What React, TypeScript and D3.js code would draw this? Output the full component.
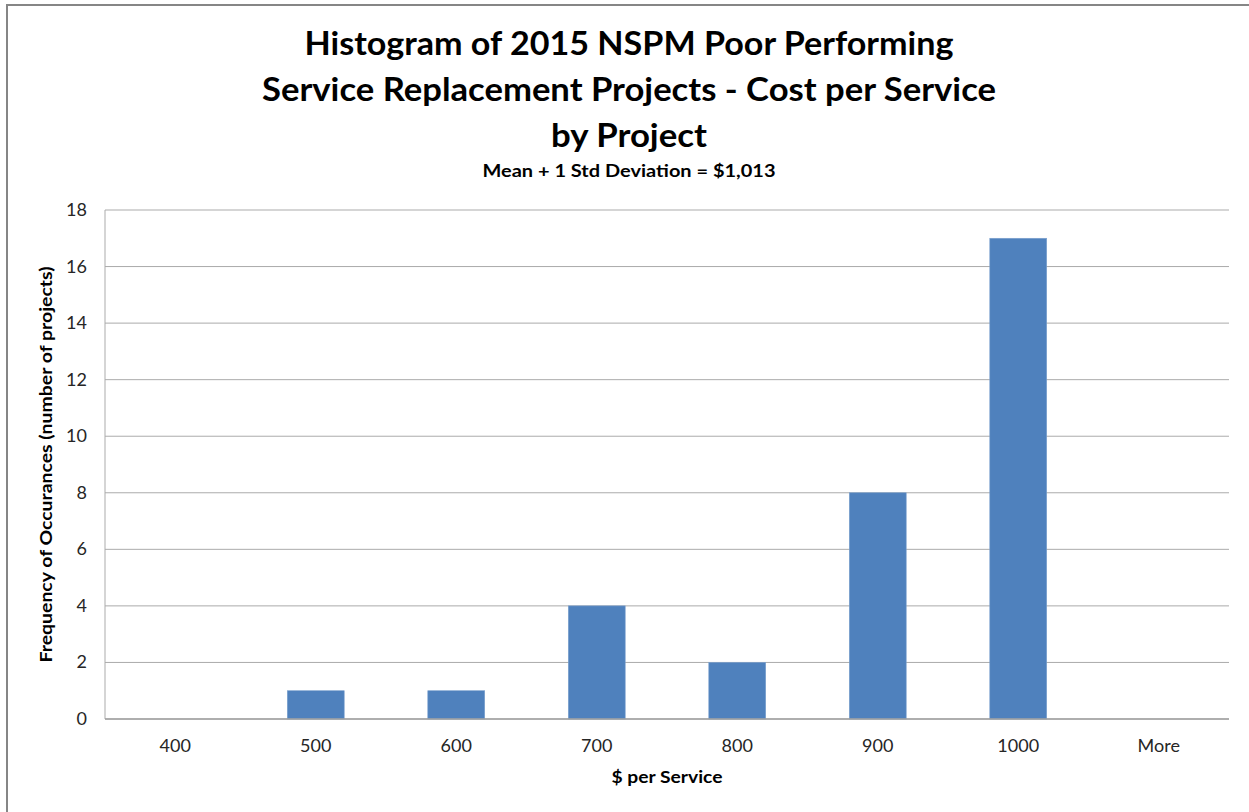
import React from "react";
import * as d3 from "d3";

const categories = ["400", "500", "600", "700", "800", "900", "1000", "More"];
const frequencies = [0, 1, 1, 4, 2, 8, 17, 0];
const yTicks = [0, 2, 4, 6, 8, 10, 12, 14, 16, 18];
const titleLines = [
  "Histogram of 2015 NSPM Poor Performing",
  "Service Replacement Projects - Cost per Service",
  "by Project",
];
const subtitle = "Mean + 1 Std Deviation = $1,013";
const xTitle = "$ per Service";
const yTitle = "Frequency of Occurances (number of projects)";

const W = 1249;
const H = 812;
const plot = { left: 105, right: 1229, top: 210, bottom: 719 };
const FONT = "Lato, 'Open Sans', sans-serif";

export default function App() {
  const x = d3
    .scaleBand<string>()
    .domain(categories)
    .range([plot.left, plot.right])
    .paddingInner(0.595)
    .paddingOuter(0.2975);
  const y = d3.scaleLinear().domain([0, 18]).range([plot.bottom, plot.top]);

  const titleWidths = [649, 734, 156];
  const titleBase = [55, 101, 147];

  return (
    <svg
      width={W}
      height={H}
      style={{ position: "absolute", left: 0, top: 0, background: "#fff" }}
    >
      <rect x={0} y={0} width={W} height={H} fill="#fff" />
      <rect x={7} y={5} width={W + 20} height={H + 20} fill="none" stroke="#868686" strokeWidth={2} />
      {titleLines.map((t, i) => (
        <text
          key={i}
          x={629}
          y={titleBase[i]}
          textAnchor="middle"
          fontFamily={FONT}
          fontWeight={700}
          fontSize={33}
          fill="#000"
          textLength={titleWidths[i]}
          lengthAdjust="spacingAndGlyphs"
        >
          {t}
        </text>
      ))}
      <text
        x={629}
        y={177}
        textAnchor="middle"
        fontFamily={FONT}
        fontWeight={700}
        fontSize={16.5}
        fill="#000"
        textLength={293}
        lengthAdjust="spacingAndGlyphs"
      >
        {subtitle}
      </text>

      {yTicks.map((t) => (
        <line
          key={t}
          x1={plot.left}
          x2={plot.right}
          y1={y(t)}
          y2={y(t)}
          stroke="#ABABAB"
          strokeWidth={1}
        />
      ))}
      <line x1={plot.left} x2={plot.left} y1={plot.top} y2={plot.bottom} stroke="#ABABAB" strokeWidth={1} />

      {categories.map((c, i) => (
        <rect
          key={c}
          x={x(c)}
          y={y(frequencies[i])}
          width={x.bandwidth()}
          height={plot.bottom - y(frequencies[i])}
          fill="#4F81BD"
          stroke="#7BA0CD"
          strokeWidth={0.6}
        />
      ))}
      <line x1={plot.left} x2={plot.right} y1={plot.bottom} y2={plot.bottom} stroke="#A0A0A0" strokeWidth={1.5} />

      {yTicks.map((t) => (
        <text
          key={t}
          x={87}
          y={y(t) + 6}
          textAnchor="end"
          fontFamily={FONT}
          fontSize={18}
          fill="#262626"
        >
          {t}
        </text>
      ))}
      {categories.map((c) => (
        <text
          key={c}
          x={(x(c) as number) + x.bandwidth() / 2}
          y={752}
          textAnchor="middle"
          fontFamily={FONT}
          fontSize={18}
          fill="#262626"
        >
          {c}
        </text>
      ))}
      <text
        x={(plot.left + plot.right) / 2}
        y={783}
        textAnchor="middle"
        fontFamily={FONT}
        fontWeight={700}
        fontSize={17}
        fill="#000"
        textLength={111}
        lengthAdjust="spacingAndGlyphs"
      >
        {xTitle}
      </text>
      <text
        transform={`translate(52, ${(plot.top + plot.bottom) / 2}) rotate(-90)`}
        textAnchor="middle"
        fontFamily={FONT}
        fontWeight={700}
        fontSize={17}
        fill="#000"
        textLength={396}
        lengthAdjust="spacingAndGlyphs"
      >
        {yTitle}
      </text>
    </svg>
  );
}
